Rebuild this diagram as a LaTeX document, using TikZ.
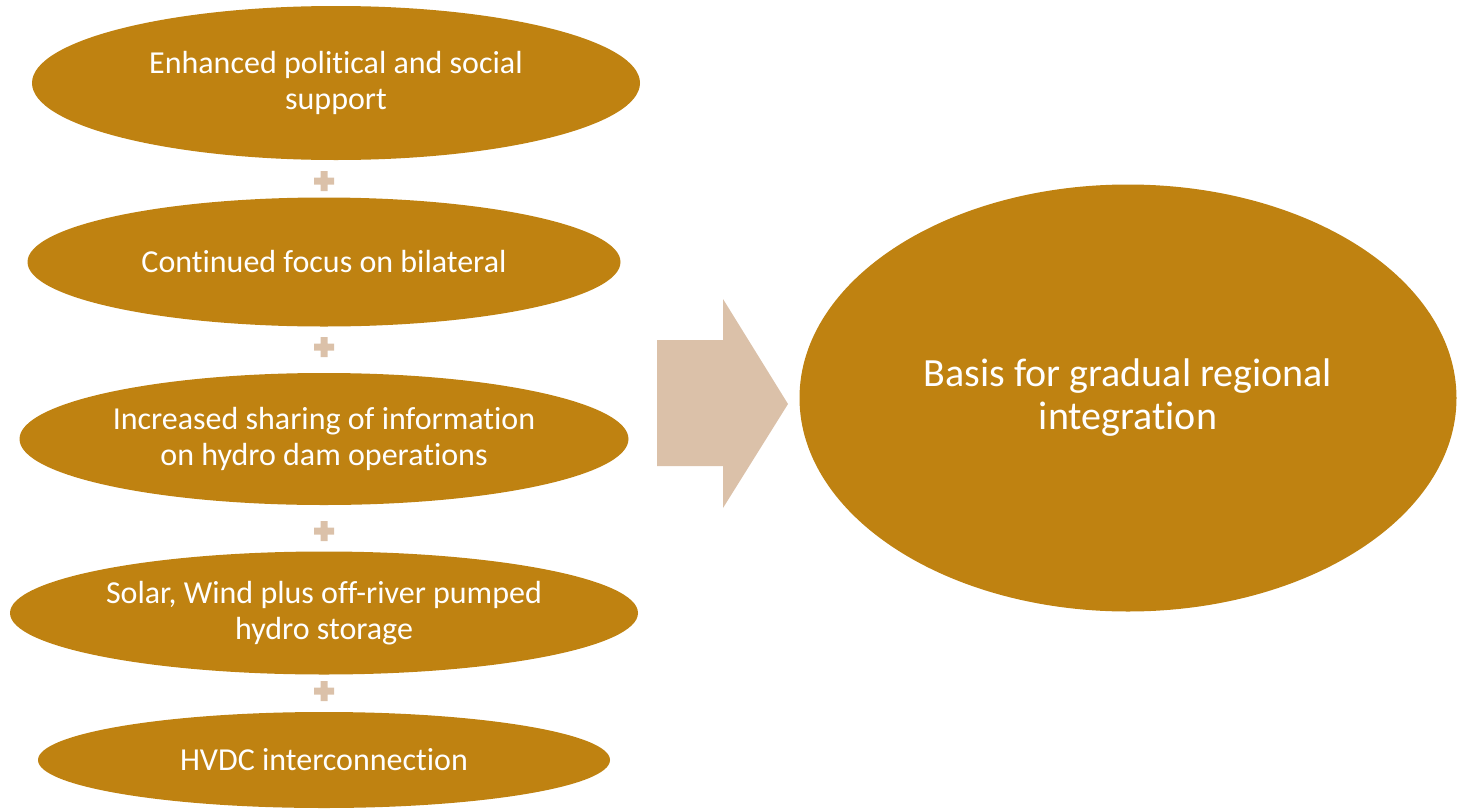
\documentclass[tikz,border=0pt]{standalone}
\usepackage{fontspec}
\setmainfont{Carlito}[RawFeature=-liga]
\usetikzlibrary{shapes.geometric,positioning}

\definecolor{ochre}{RGB}{191,130,17}
\definecolor{sand}{RGB}{219,193,169}

\begin{document}
\begin{tikzpicture}[x=0.5pt,y=-0.5pt,
    item/.style={ellipse,fill=ochre,text=white,inner sep=0pt,align=center,
                 font=\fontsize{16}{18}\selectfont},
    goal/.style={ellipse,fill=ochre,text=white,inner sep=0pt,align=center,
                 font=\fontsize{20}{21.5}\selectfont}]

    \useasboundingbox (0,0) rectangle (1457,809);

    % left column of factors
    \node[item,minimum width=304pt,minimum height=77pt] (e1) at (336,83)
        {Enhanced political and social\\support};
    \node[item,minimum width=296.5pt,minimum height=64.5pt] (e2) at (324,262)
        {Continued focus on bilateral};
    \node[item,minimum width=304.5pt,minimum height=66pt] (e3) at (324,439)
        {Increased sharing of information\\on hydro dam operations};
    \node[item,minimum width=314pt,minimum height=61.5pt] (e4) at (324,613)
        {Solar, Wind plus off-river pumped\\hydro storage};
    \node[item,minimum width=286pt,minimum height=48pt] (e5) at (324,760)
        {HVDC interconnection};

    % result
    \node[goal,minimum width=328.5pt,minimum height=213.5pt] (basis) at (1128,398)
        {Basis for gradual regional\\integration};

    % plus signs between the factors
    \foreach \y in {181,347,531,691}
        \fill[sand,shift={(324,\y)}] (-10,-3.5) rectangle (10,3.5)
                                     (-3.5,-10) rectangle (3.5,10);

    % block arrow
    \fill[sand] (657,340) -- (723,340) -- (723,299) -- (788,404)
        -- (723,508) -- (723,466) -- (657,466) -- cycle;

\end{tikzpicture}
\end{document}
